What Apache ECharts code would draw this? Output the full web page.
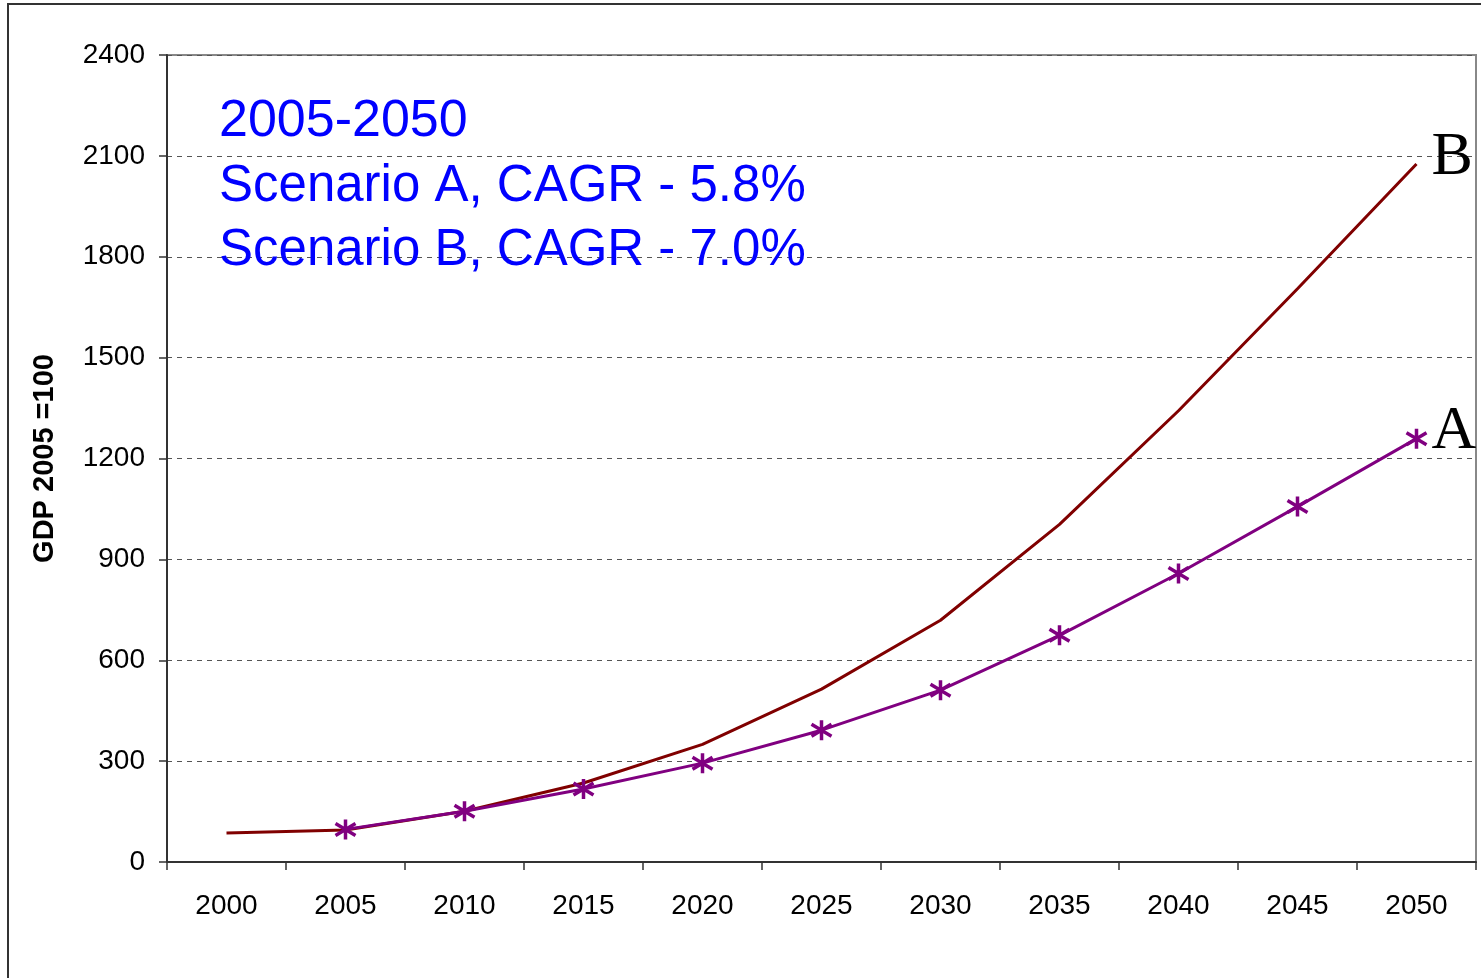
<!DOCTYPE html>
<html>
<head>
<meta charset="utf-8">
<script src="https://cdn.jsdelivr.net/npm/echarts@6/dist/echarts.min.js"></script>
<style>
html,body{margin:0;padding:0;background:#fff;}
#chart{width:1481px;height:978px;}
</style>
</head>
<body>
<div id="chart"></div>
<script>
const years = ['2000','2005','2010','2015','2020','2025','2030','2035','2040','2045','2050'];
const scenarioB = [86, 95, 151, 235, 350, 514, 719, 1004, 1342, 1705, 2076];
const scenarioA = [null, 97, 151, 217, 294, 392, 511, 674, 858, 1057, 1259];
const yTicks = [0, 300, 600, 900, 1200, 1500, 1800, 2100, 2400];
const annotation = ['2005-2050', 'Scenario A, CAGR - 5.8%', 'Scenario B, CAGR - 7.0%'];

const asterisk = 'path://M10,0L10,20M1,4L19,16M1,16L19,4';
const FONT = 'Liberation Sans, Arial, sans-serif';

const chart = echarts.init(document.getElementById('chart'), null, {renderer: 'canvas'});
chart.setOption({
  backgroundColor: '#fff',
  animation: false,
  grid: {left: 167, top: 55, right: 5, bottom: 116, show: true, borderColor: '#888', borderWidth: 2},
  xAxis: {
    type: 'category',
    data: years,
    boundaryGap: true,
    axisLine: {lineStyle: {color: '#333', width: 2}},
    axisTick: {show: true, length: 8, inside: false, lineStyle: {color: '#333', width: 1.5}},
    axisLabel: {color: '#000', fontSize: 28, fontFamily: FONT, margin: 30},
    splitLine: {show: false}
  },
  yAxis: {
    type: 'value',
    min: yTicks[0],
    max: yTicks[yTicks.length - 1],
    interval: 300,
    name: 'GDP 2005 =100',
    nameLocation: 'middle',
    nameGap: 108,
    nameTextStyle: {color: '#000', fontSize: 29, fontWeight: 'bold', fontFamily: FONT},
    axisLine: {show: true, lineStyle: {color: '#333', width: 2}},
    axisTick: {show: true, length: 8, lineStyle: {color: '#333', width: 1.5}},
    axisLabel: {color: '#000', fontSize: 28, fontFamily: FONT, margin: 22, formatter: function (v) { return String(v); }},
    splitLine: {show: true, lineStyle: {color: '#555', type: [5, 5], width: 1}}
  },
  series: [
    {
      name: 'B',
      type: 'line',
      data: scenarioB,
      symbol: 'none',
      lineStyle: {color: '#800000', width: 3},
      itemStyle: {color: '#800000'},
      z: 3,
      endLabel: {show: true, formatter: 'B', color: '#000', fontSize: 62, fontFamily: 'Liberation Serif, Times New Roman, serif', distance: 15, offset: [0, -6]}
    },
    {
      name: 'A',
      type: 'line',
      data: scenarioA,
      symbol: asterisk,
      symbolSize: 20,
      showAllSymbol: true,
      lineStyle: {color: '#800080', width: 3},
      itemStyle: {color: 'none', borderColor: '#800080', borderWidth: 3.5},
      z: 4,
      endLabel: {show: true, formatter: 'A', color: '#000', fontSize: 62, fontFamily: 'Liberation Serif, Times New Roman, serif', distance: 15, offset: [0, -7]}
    }
  ],
  graphic: [
    {type: 'rect', shape: {x: 8, y: 4, width: 1500, height: 1000}, style: {fill: 'none', stroke: '#333', lineWidth: 2}, silent: true, z: -1},
    {type: 'text', left: 219, top: 96, style: {text: annotation[0], fill: '#0000ff', fontSize: 52, fontFamily: FONT}, z: 10},
    {type: 'text', left: 219, top: 161, style: {text: annotation[1], fill: '#0000ff', fontSize: 51, fontFamily: FONT}, z: 10},
    {type: 'text', left: 219, top: 225, style: {text: annotation[2], fill: '#0000ff', fontSize: 51, fontFamily: FONT}, z: 10}
  ]
});
</script>
</body>
</html>
